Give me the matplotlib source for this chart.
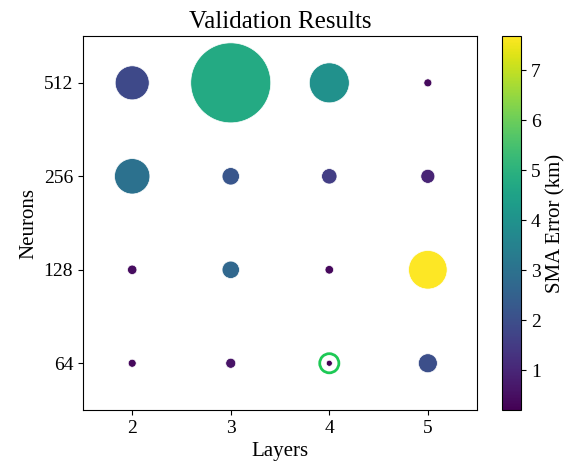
import matplotlib
matplotlib.use('Agg')
import matplotlib.pyplot as plt
import numpy as np

#region Inputs

plt.rcParams['font.family'] = ['Liberation Serif', 'DejaVu Serif']

layers = [2, 3, 4, 5,
          2, 3, 4, 5,
          2, 3, 4, 5,
          2, 3, 4, 5]

neuron_labels = ['64', '128', '256', '512']

neurons = ['512', '512', '512', '512',
           '256', '256', '256', '256',
           '128', '128', '128', '128',
           '64', '64', '64', '64']

sma_error = [1.85, 4.75, 3.95, 0.4,
             3.0, 2.2, 1.55, 0.95,
             0.45, 2.7, 0.35, 7.68,
             0.35, 0.6, 0.2, 2.0]

bubble_size = [600, 3318, 829, 33,
               650, 157, 123, 102,
               46, 157, 38, 772,
               33, 52, 19, 187]

best_layer = 4
best_neurons = '64'

#endregion

#region Plot

fig = plt.figure(figsize=(5.68, 4.63), dpi=100)
ax = fig.add_axes([0.146, 0.1145, 0.694, 0.8075])
cax = fig.add_axes([0.884, 0.1145, 0.0335, 0.8075])

y_pos = [neuron_labels.index(n) for n in neurons]

sc = ax.scatter(layers, y_pos, s=bubble_size, c=sma_error, cmap='viridis',
                vmin=0.2, vmax=7.68, edgecolors='white', linewidths=0.5, zorder=2)

ax.scatter([best_layer], [neuron_labels.index(best_neurons)], s=190,
           facecolors='none', edgecolors='#1dc955', linewidths=2.0, zorder=3)

ax.set_xlim(1.5, 5.5)
ax.set_ylim(-0.5, 3.5)
ax.set_xticks([2, 3, 4, 5])
ax.set_yticks(range(len(neuron_labels)))
ax.set_yticklabels(neuron_labels)
ax.tick_params(labelsize=14)

ax.set_xlabel('Layers', fontsize=15)
ax.set_ylabel('Neurons', fontsize=15)
ax.set_title('Validation Results', fontsize=18)

cb = fig.colorbar(sc, cax=cax)
cb.set_label('SMA Error (km)', fontsize=15)
cb.ax.tick_params(labelsize=14)

fig.savefig('out.png', dpi=100)

#endregion
